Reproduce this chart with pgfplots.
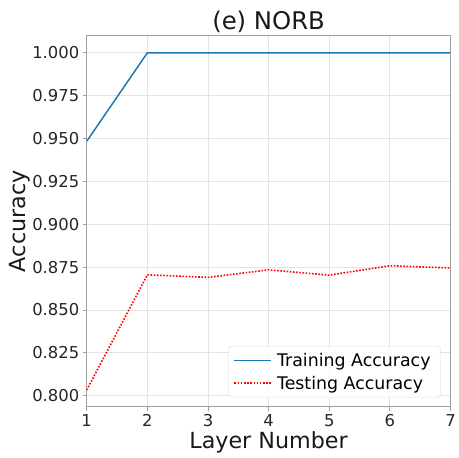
\documentclass[border=0pt]{standalone}
\usepackage{fontspec}
\setmainfont{DejaVu Sans}
\usepackage{pgfplots}
\pgfplotsset{compat=1.18}
\definecolor{mplblue}{HTML}{1F77B4}
\definecolor{spine}{HTML}{A0A0A0}

\pgfplotstableread{
layer acc
1 0.9484
2 1.0000
3 1.0000
4 1.0000
5 1.0000
6 1.0000
7 1.0000
}\training

\pgfplotstableread{
layer acc
1 0.8033
2 0.8705
3 0.8690
4 0.8734
5 0.8703
6 0.8758
7 0.8745
}\testing

\begin{document}
\begin{tikzpicture}
\begin{axis}[
  name=main,
  scale only axis,
  width=365bp, height=372bp,
  xmin=1, xmax=7,
  ymin=0.7936, ymax=1.0099,
  xtick={1,2,3,4,5,6,7},
  ytick={0.800,0.825,0.850,0.875,0.900,0.925,0.950,0.975,1.000},
  yticklabel style={/pgf/number format/.cd,fixed,fixed zerofill,precision=3},
  /pgf/number format/assume math mode=true,
  ticklabel style={font=\fontsize{16.5}{19}\selectfont, text=black!85},
  tick align=outside,
  tick style={spine, line width=0.8pt},
  major tick length=4bp,
  xtick pos=bottom, ytick pos=left,
  axis line style={spine, line width=0.9pt},
  grid=major,
  major grid style={gray!22, line width=0.8pt},
  title={(e) NORB},
  title style={font=\fontsize{24.5}{28}\selectfont, text=black!90, yshift=-6bp},
  xlabel={Layer Number},
  ylabel={Accuracy},
  xlabel style={font=\fontsize{22.4}{26}\selectfont, text=black!90, yshift=2bp},
  ylabel style={font=\fontsize{22.4}{26}\selectfont, text=black!90, yshift=-5bp},
  legend style={at={(rel axis cs:0.973,0.024)}, anchor=south east,
    font=\fontsize{17.5}{20}\selectfont, draw=gray!30, rounded corners=3pt,
    fill=white, fill opacity=0.85, text opacity=1,
    inner xsep=5bp, inner ysep=5bp, row sep=4bp,
    nodes={inner xsep=5bp}},
  legend cell align=left,
  legend image code/.code={\draw[#1, line width=1.5pt] (0bp,0bp) -- (37bp,0bp);},
]
\addplot[mplblue, line width=1.5pt] table[x=layer, y=acc] {\training};
\addlegendentry{Training Accuracy}
\addplot[red, line width=1.6pt, dash pattern=on 1.6pt off 1.6pt] table[x=layer, y=acc] {\testing};
\addlegendentry{Testing Accuracy}
\end{axis}
\path ([xshift=-87bp,yshift=-51bp]main.south west) rectangle ([xshift=7bp,yshift=36bp]main.north east);
\end{tikzpicture}
\end{document}
